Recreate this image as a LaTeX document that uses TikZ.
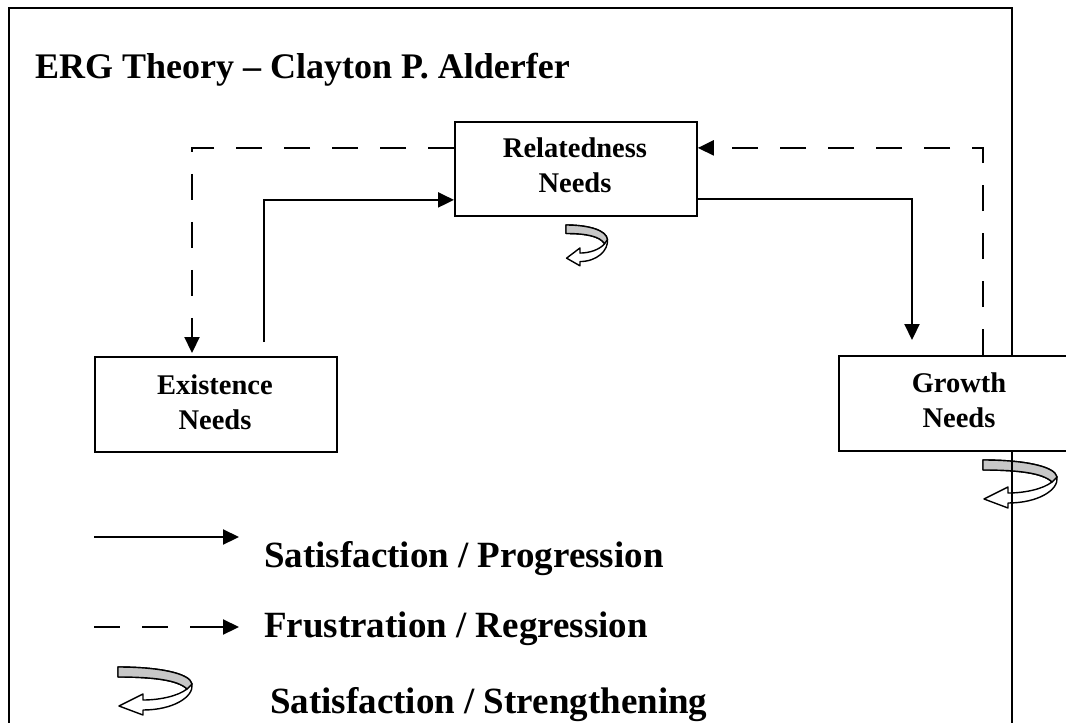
\documentclass[tikz,border=0pt]{standalone}
\usepackage{fontspec}
\setmainfont{Liberation Serif}
\usetikzlibrary{arrows.meta}

\tikzset{
  needbox/.style={draw, line width=1.8pt, fill=white, anchor=north west, inner sep=0pt},
  boxtext/.style={font=\fontsize{28.5}{35}\selectfont\bfseries, align=center, anchor=base, inner sep=0pt},
  legendtext/.style={font=\fontsize{37}{44}\selectfont\bfseries, anchor=base west, inner sep=0pt},
  flow/.style={line width=2.2pt, -{Triangle[length=16pt,width=15pt]}},
  back/.style={flow, dash pattern=on 26pt off 22pt},
  strengthen/.pic={
    % white outline of the turning band with its arrowhead
    \path[fill=white, draw, line width=1.4pt, line join=round]
      (0,0) .. controls (40,0) and (72,6) .. (74,17)
      .. controls (76,30) and (55,43) .. (25,43) -- (25,48) -- (1,39) -- (25,27) -- (25,33)
      .. controls (42,33) and (60,29) .. (69,22)
      .. controls (60,13) and (35,10) .. (0,10) -- cycle;
    % grey upper face of the band
    \path[fill=black!22, draw, line width=1.4pt, line join=round]
      (0,0) .. controls (40,0) and (72,6) .. (74,17) -- (69,22)
      .. controls (60,13) and (35,10) .. (0,10) -- cycle;
  }
}

\begin{document}
\begin{tikzpicture}[x=1pt, y=-1pt]
  \useasboundingbox (0,0) rectangle (1066,723);
  \fill[white] (0,0) rectangle (1066,723);
  \clip (0,0) rectangle (1066,723);

  % strengthening symbols
  \pic at (566,225) [xscale=0.56, yscale=0.85] {strengthen};
  \pic at (983,460) {strengthen};
  \pic at (118,667) {strengthen};

  % outer frame
  \draw[line width=2.5pt] (9,740) |- (1012,8) -- (1012,740);

  % title
  \node[font=\fontsize{36}{44}\selectfont\bfseries, anchor=base west, inner sep=0pt] (title) at (35,78)
    {ERG Theory – Clayton P. Alderfer};

  % need boxes
  \node[needbox, minimum width=242pt, minimum height=94pt] (rel) at (454,121) {};
  \node[needbox, minimum width=242pt, minimum height=95pt] (exist) at (94,356) {};
  \node[needbox, minimum width=242pt, minimum height=95pt] (grow) at (838,355) {};

  \node[boxtext] (relA) at (575,157) {Relatedness};
  \node[boxtext] (relB) at (575,192) {Needs};
  \node[boxtext] (exA) at (215,394) {Existence};
  \node[boxtext] (exB) at (215,429) {Needs};
  \node[boxtext] (grA) at (959,392) {Growth};
  \node[boxtext] (grB) at (959,427) {Needs};

  % connector ends
  \coordinate (exOut) at (264,342);
  \coordinate (grIn) at (912,340);
  \coordinate (exIn) at (192,353);
  \coordinate (grOut) at (983,355);

  % progression
  \draw[flow] (exOut) |- ([yshift=-31pt]rel.west);
  \draw[flow] ([yshift=-30pt]rel.east) -| (grIn);
  % regression
  \draw[back] ([yshift=21pt]rel.west) -| (exIn);
  \draw[back] (grOut) |- ([yshift=21pt]rel.east);

  % legend
  \coordinate (l1a) at (94,537);
  \coordinate (l1b) at (239,537);
  \coordinate (l2a) at (94,627);
  \coordinate (l2b) at (239,627);
  \draw[flow] (l1a) -- (l1b);
  \draw[flow, dash pattern=on 26pt off 22pt on 26pt off 22pt on 60pt] (l2a) -- (l2b);
  \node[legendtext] (t1) at (264,567) {Satisfaction / Progression};
  \node[legendtext] (t2) at (264,637) {Frustration / Regression};
  \node[legendtext] (t3) at (270,713) {Satisfaction / Strengthening};
\end{tikzpicture}
\end{document}
